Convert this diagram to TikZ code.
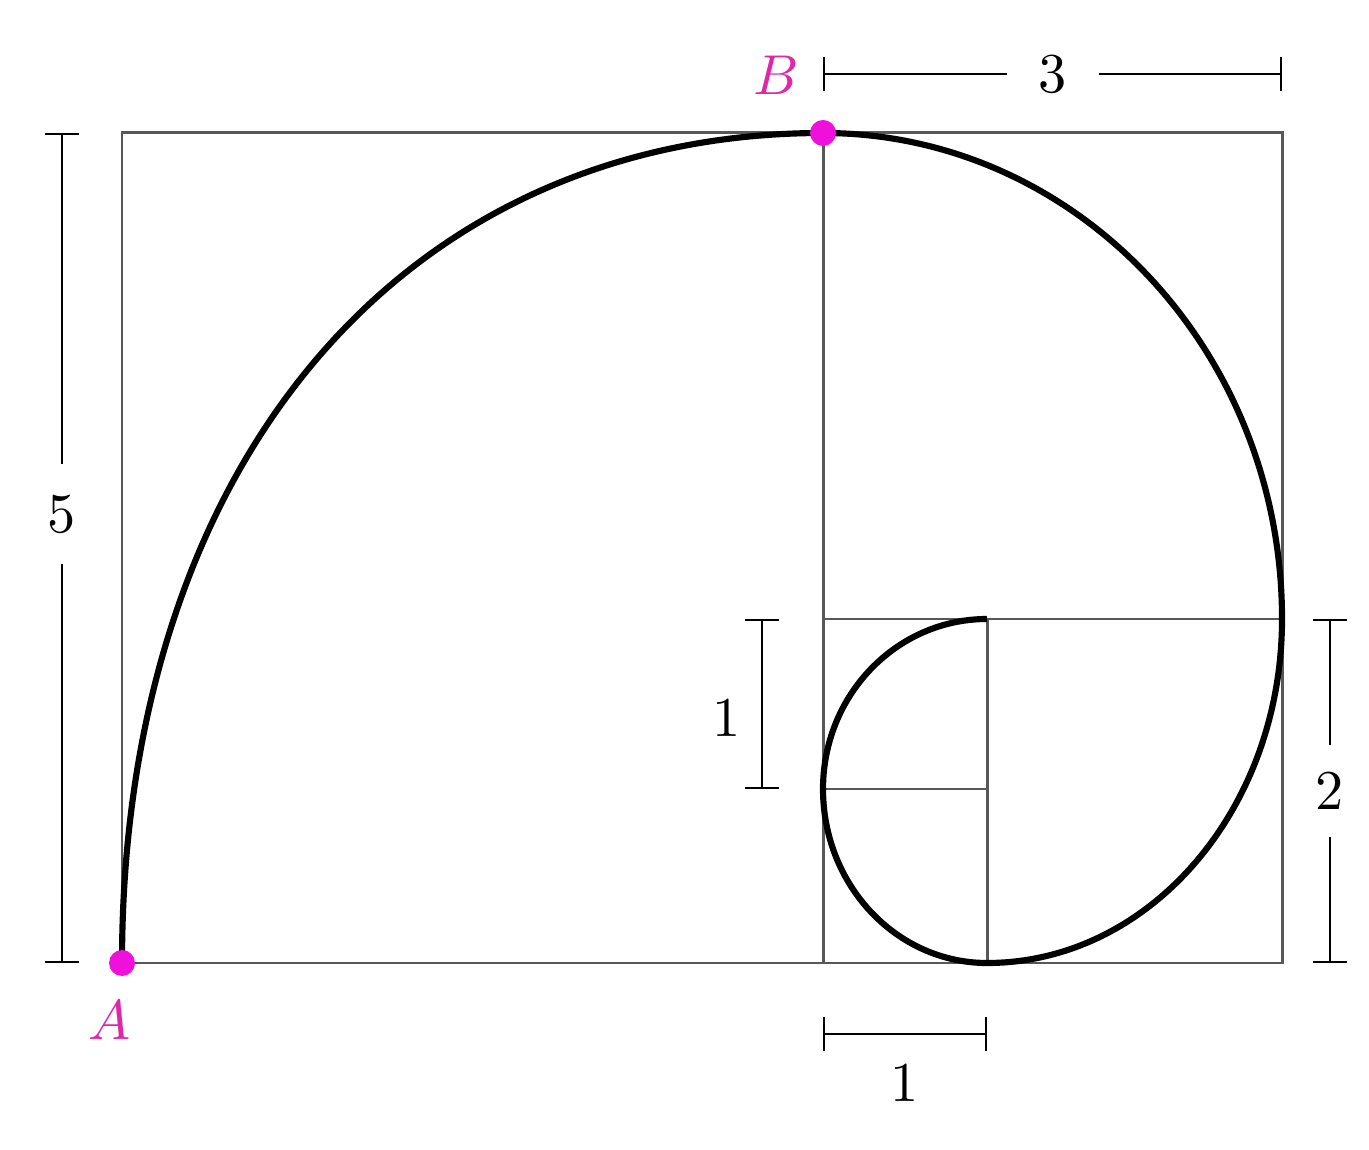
\documentclass[tikz,border=0pt]{standalone}
\usepackage{amsmath}
\usepackage{tikz}
\usetikzlibrary{arrows.meta}
\definecolor{dotpink}{RGB}{240,16,220}
\definecolor{labpink}{RGB}{222,40,170}
\definecolor{boxgray}{RGB}{88,88,88}
\font\dimfont=cmr10 at 16pt
\font\ptfont=cmmi10 at 16pt

\begin{document}
\begin{tikzpicture}[
	boxline/.style={boxgray,line width=0.85pt},
	spiral/.style={black,line width=1.75pt},
	dimline/.style={black,line width=0.6pt},
	dimlab/.style={inner sep=0pt,minimum size=0.9cm,font=\dimfont},
	ptlab/.style={labpink,inner sep=0pt,font=\ptfont},
	dot/.style={dotpink,fill,circle,inner sep=0pt,minimum size=0.26cm}]

%%%%%%%%%%%%%%%%%%%%%%%%%%%%%%%%%%%%%%%%%%%%%%%%%%%%%%%%%%%%%%%%%%%%%%%%%%%%%%%%%%%%%%%%%%%%%%%%%%%
%																								  %
%	Golden spiral through the squares 5, 3, 2, 1, 1 from A to B									  %
%																								  %
%%%%%%%%%%%%%%%%%%%%%%%%%%%%%%%%%%%%%%%%%%%%%%%%%%%%%%%%%%%%%%%%%%%%%%%%%%%%%%%%%%%%%%%%%%%%%%%%%%%

	\useasboundingbox (0,0) rectangle (13.69,11.49);

	%Define the grid lines
	%x: left, middle, small square, right
	%y: bottom, small square, middle, top
	\pgfmathsetmacro{\xl}{1.22}
	\pgfmathsetmacro{\xm}{8.23}
	\pgfmathsetmacro{\xs}{9.87}
	\pgfmathsetmacro{\xr}{12.82}
	\pgfmathsetmacro{\yb}{1.86}
	\pgfmathsetmacro{\ys}{3.60}
	\pgfmathsetmacro{\ym}{5.30}
	\pgfmathsetmacro{\yt}{10.16}

	%Define the radii of the quarter arcs
	\pgfmathsetmacro{\rxa}{\xm-\xl}
	\pgfmathsetmacro{\rya}{\yt-\yb}
	\pgfmathsetmacro{\rxb}{\xr-\xm}
	\pgfmathsetmacro{\ryb}{\yt-\ym}
	\pgfmathsetmacro{\rxc}{\xr-\xs}
	\pgfmathsetmacro{\ryc}{\ym-\yb}
	\pgfmathsetmacro{\rxd}{\xs-\xm}
	\pgfmathsetmacro{\ryd}{\ys-\yb}
	\pgfmathsetmacro{\rye}{\ym-\ys}

	%Control points of the big first quarter (a bit fuller than an ellipse)
	\pgfmathsetmacro{\ca}{\yb+0.6*\rya}
	\pgfmathsetmacro{\cb}{\xm-0.6*\rxa}

	%Draw the squares
	\draw[boxline] (\xl,\yb) rectangle (\xr,\yt);
	\draw[boxline] (\xm,\yb) -- (\xm,\yt);
	\draw[boxline] (\xm,\ym) -- (\xr,\ym);
	\draw[boxline] (\xs,\yb) -- (\xs,\ym);
	\draw[boxline] (\xm,\ys) -- (\xs,\ys);

	%Draw the spiral
	\coordinate (start) at (\xl,\yb);
	\coordinate (top) at (\xm,\yt);
	\draw[spiral] (start) .. controls (\xl,\ca) and (\cb,\yt) .. (top)
		arc[start angle=90,end angle=0,x radius=\rxb,y radius=\ryb]
		arc[start angle=0,end angle=-90,x radius=\rxc,y radius=\ryc]
		arc[start angle=-90,end angle=-180,x radius=\rxd,y radius=\ryd]
		arc[start angle=180,end angle=90,x radius=\rxd,y radius=\rye];

	%Points A and B
	\draw node[dot] (A) at (\xl,\yb) {};
	\draw node[dot] (B) at (\xm,\yt) {};
	\draw node[ptlab] (Alab) at (1.10,1.29) {A};
	\draw node[ptlab] (Blab) at (7.75,10.74) {B};

	%Dimension 5 on the left
	\coordinate (d5t) at (0.62,\yt);
	\coordinate (d5b) at (0.62,\yb);
	\draw node[dimlab,minimum height=0.98cm] (l5) at (0.62,6.35) {5};
	\draw[dimline,{Bar[width=3.4mm]}-] (d5t) -- (l5);
	\draw[dimline,-{Bar[width=3.4mm]}] (l5) -- (d5b);

	%Dimension 3 on top
	\coordinate (d3l) at (\xm,10.75);
	\coordinate (d3r) at (\xr,10.75);
	\draw node[dimlab] (l3) at (10.53,10.75) {3};
	\draw[dimline,{Bar[width=3.4mm]}-] (d3l) -- (l3);
	\draw[dimline,-{Bar[width=3.4mm]}] (l3) -- (d3r);

	%Dimension 2 on the right
	\coordinate (d2t) at (13.30,\ym);
	\coordinate (d2b) at (13.30,\yb);
	\draw node[dimlab] (l2) at (13.30,3.58) {2};
	\draw[dimline,{Bar[width=3.4mm]}-] (d2t) -- (l2);
	\draw[dimline,-{Bar[width=3.4mm]}] (l2) -- (d2b);

	%Dimension 1, vertical
	\coordinate (d1t) at (7.62,\ym);
	\coordinate (d1b) at (7.62,\ys);
	\draw[dimline,{Bar[width=3.4mm]}-{Bar[width=3.4mm]}] (d1t) -- (d1b);
	\draw node[dimlab,minimum size=0pt] (l1v) at (7.27,4.31) {1};

	%Dimension 1, horizontal
	\coordinate (d1l) at (\xm,1.15);
	\coordinate (d1r) at (\xs,1.15);
	\draw[dimline,{Bar[width=3.4mm]}-{Bar[width=3.4mm]}] (d1l) -- (d1r);
	\draw node[dimlab,minimum size=0pt] (l1h) at (9.05,0.66) {1};

\end{tikzpicture}
\end{document}
